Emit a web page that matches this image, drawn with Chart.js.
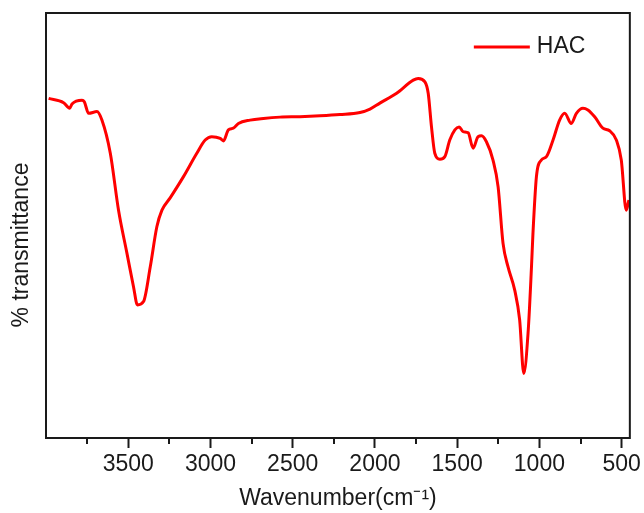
<!DOCTYPE html>
<html>
<head>
<meta charset="utf-8">
<title>FTIR spectrum</title>
<script src="https://cdn.jsdelivr.net/npm/chart.js@4.4.1/dist/chart.umd.min.js"></script>
<style>
  html, body { margin: 0; padding: 0; background: #fff; }
  #wrap { width: 644px; height: 513px; }
</style>
</head>
<body>
<div id="wrap"><canvas id="ftir" width="644" height="513"></canvas></div>
<script>
// spectrum, read left to right (high to low wavenumber)
const wavenumbers = [
  3984, 3893, 3856, 3842, 3781, 3767, 3741, 3690, 3660, 3609,
  3559, 3508, 3468, 3444, 3407, 3366, 3326, 3295, 3245, 3164,
  3083, 3032, 2992, 2941, 2921, 2891, 2861, 2830, 2759, 2678,
  2577, 2456, 2334, 2213, 2091, 2030, 1970, 1868, 1767, 1737,
  1696, 1676, 1656, 1636, 1605, 1575, 1545, 1514, 1488, 1464,
  1433, 1403, 1373, 1352, 1322, 1282, 1251, 1221, 1191, 1150,
  1120, 1095, 1069, 1048, 1039, 1018, 988, 957, 917, 877,
  846, 806, 775, 735, 705, 664, 614, 573, 532, 502,
  472, 456
];
const transmittance = [
  79.9, 78.9, 77.6, 78.6, 79.5, 79.1, 76.4, 76.8, 74.8, 67.0,
  53.6, 43.5, 35.6, 31.3, 32.1, 40.3, 49.7, 53.6, 56.5, 61.5,
  67.0, 70.1, 70.9, 70.5, 69.9, 72.5, 72.9, 74.0, 74.8, 75.2,
  75.5, 75.6, 75.8, 76.1, 76.6, 77.4, 78.8, 81.1, 84.2, 84.6,
  83.8, 81.1, 73.2, 67.0, 65.6, 66.2, 70.1, 72.5, 73.2, 72.1,
  71.8, 68.2, 70.9, 71.1, 69.7, 65.4, 59.1, 45.8, 40.3, 34.8,
  27.8, 15.2, 24.6, 40.3, 48.2, 61.5, 65.4, 66.2, 70.1, 74.8,
  76.4, 74.0, 76.4, 77.6, 77.2, 75.6, 72.9, 72.3, 70.1, 65.4,
  53.6, 56.0
];
const majorTicks = [3500, 3000, 2500, 2000, 1500, 1000, 500];
const minorTicks = [3750, 3250, 2750, 2250, 1750, 1250, 750];
const seriesName = 'HAC';

const FONT = "'Liberation Sans', Arial, sans-serif";
const INK = '#1a1a1a';

// box around the plot, minor ticks, y title and the legend
const framePlugin = {
  id: 'frame',
  afterDraw(chart) {
    const { ctx, chartArea: a, scales } = chart;
    ctx.save();
    ctx.strokeStyle = INK;
    ctx.lineWidth = 2;
    ctx.strokeRect(a.left, a.top, a.right - a.left, a.bottom - a.top);

    minorTicks.forEach(v => {
      const x = Math.round(scales.x.getPixelForValue(v));
      ctx.beginPath();
      ctx.moveTo(x, a.bottom);
      ctx.lineTo(x, a.bottom + 6);
      ctx.stroke();
    });

    ctx.fillStyle = INK;
    ctx.font = '23px ' + FONT;
    ctx.textAlign = 'center';
    ctx.textBaseline = 'middle';
    ctx.translate(22, 245);
    ctx.rotate(-Math.PI / 2);
    ctx.fillText('% transmittance', 0, 0);
    ctx.restore();

    const ds = chart.data.datasets[0];
    const ly = a.top + 34;
    const lx = a.right - 156;
    ctx.save();
    ctx.strokeStyle = ds.borderColor;
    ctx.lineWidth = ds.borderWidth;
    ctx.beginPath();
    ctx.moveTo(lx, ly);
    ctx.lineTo(lx + 56, ly);
    ctx.stroke();
    ctx.fillStyle = INK;
    ctx.font = '23px ' + FONT;
    ctx.textAlign = 'left';
    ctx.textBaseline = 'middle';
    ctx.fillText(ds.label, lx + 63, ly);
    ctx.restore();
  }
};

new Chart(document.getElementById('ftir'), {
  type: 'line',
  data: {
    datasets: [{
      label: seriesName,
      data: wavenumbers.map((w, i) => ({ x: w, y: transmittance[i] })),
      borderColor: '#ff0000',
      borderWidth: 3,
      pointRadius: 0,
      cubicInterpolationMode: 'monotone',
      fill: false
    }]
  },
  options: {
    responsive: false,
    animation: false,
    devicePixelRatio: 1,
    layout: { padding: { top: 13, right: 14, left: 0, bottom: 0 } },
    plugins: {
      legend: { display: false },
      tooltip: { enabled: false }
    },
    scales: {
      x: {
        type: 'linear',
        reverse: true,
        min: 450,
        max: 4000,
        afterBuildTicks: s => { s.ticks = majorTicks.map(v => ({ value: v })); },
        afterFit: s => { s.height = 75; },
        border: { display: false },
        grid: { drawOnChartArea: false, drawTicks: true, tickLength: 10, tickWidth: 2, tickColor: INK },
        ticks: {
          color: INK,
          padding: 3,
          maxRotation: 0,
          font: { family: FONT, size: 23 },
          callback: v => String(v)
        },
        title: {
          display: true,
          text: 'Wavenumber(cm\u207B\u00B9)',
          color: INK,
          font: { family: FONT, size: 23, lineHeight: 1.2 },
          padding: { top: 0, bottom: 1 }
        }
      },
      y: {
        min: 0,
        max: 100,
        afterFit: s => { s.width = 46; },
        border: { display: false },
        grid: { display: false },
        ticks: { display: false }
      }
    }
  },
  plugins: [framePlugin]
});
</script>
</body>
</html>
